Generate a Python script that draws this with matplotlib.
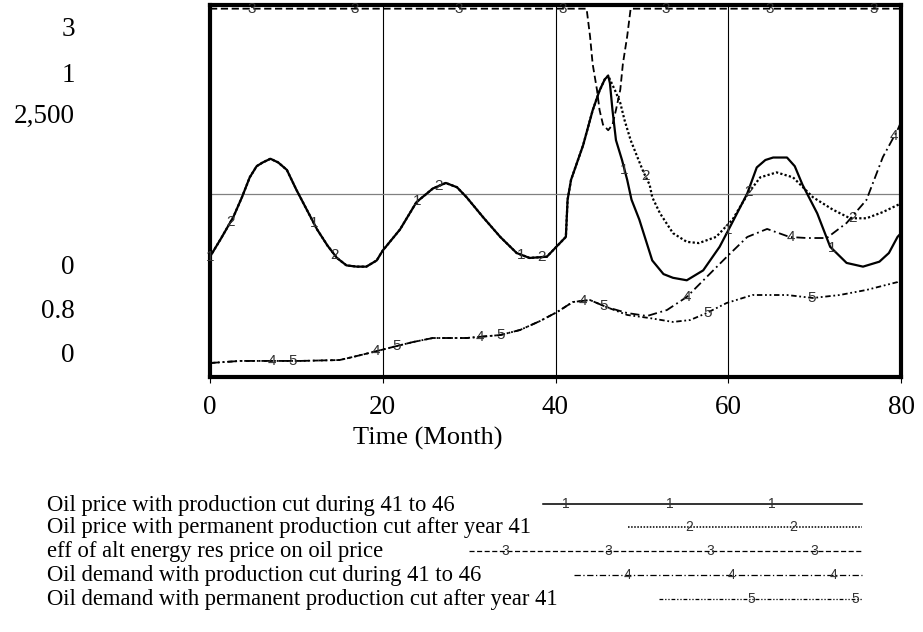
import numpy as np
import matplotlib
matplotlib.use("Agg")
import matplotlib.pyplot as plt

plt.rcParams['font.family'] = ['Liberation Serif', 'DejaVu Serif']

# ---- data ----
# 1: oil price with production cut during 41 to 46 (scale 0..3)
month_1 = [0, 1.3, 2.7, 3.7, 4.6, 5.4, 6.1, 7.0, 7.9, 8.9, 10.0, 11.2, 12.4, 13.6, 14.7,
           15.8, 17.0, 18.1, 19.3, 20.0, 22.0, 23.9, 25.8, 27.3, 28.6, 29.7, 31.6, 33.6,
           35.5, 37.0, 39.0, 41.2, 41.4, 41.8, 43.2, 44.3, 45.1, 45.7, 46.1, 46.3, 46.6,
           47.0, 47.7, 48.3, 48.8, 49.7, 51.2, 52.5, 53.6, 55.2, 57.1, 59.0, 60.2, 62.2,
           63.3, 64.3, 65.2, 66.8, 67.7, 68.6, 70.3, 71.8, 73.7, 75.6, 77.5, 78.6, 79.6, 80]
price_cut_41_46 = [0.97, 1.12, 1.29, 1.45, 1.61, 1.70, 1.73, 1.76, 1.73, 1.67, 1.51, 1.35,
                   1.19, 1.06, 0.96, 0.90, 0.89, 0.89, 0.94, 1.02, 1.19, 1.41, 1.52, 1.565,
                   1.53, 1.45, 1.29, 1.13, 1.00, 0.96, 0.97, 1.13, 1.43, 1.59, 1.87, 2.15,
                   2.31, 2.40, 2.43, 2.37, 2.15, 1.91, 1.75, 1.59, 1.43, 1.27, 0.94, 0.83,
                   0.80, 0.78, 0.86, 1.05, 1.21, 1.48, 1.69, 1.75, 1.77, 1.77, 1.70, 1.55,
                   1.32, 1.05, 0.92, 0.89, 0.93, 1.00, 1.13, 1.16]

# 2: oil price with permanent production cut after year 41 (scale 0..3)
month_2 = [0, 1.3, 2.7, 3.7, 4.6, 5.4, 6.1, 7.0, 7.9, 8.9, 10.0, 11.2, 12.4, 13.6, 14.7,
           15.8, 17.0, 18.1, 19.3, 20.0, 22.0, 23.9, 25.8, 27.3, 28.6, 29.7, 31.6, 33.6,
           35.5, 37.0, 39.0, 41.2, 41.4, 41.8, 43.2, 44.3, 45.1, 45.7, 46.1, 46.3, 46.9,
           47.5, 48.0, 48.7, 49.5, 50.2, 50.9, 51.2, 52.1, 53.6, 55.2, 56.6, 58.6, 60.5,
           62.3, 63.7, 65.6, 67.5, 69.8, 72.1, 74.1, 76.0, 77.9, 80]
price_perm_cut = [0.97, 1.12, 1.29, 1.45, 1.61, 1.70, 1.73, 1.76, 1.73, 1.67, 1.51, 1.35,
                  1.19, 1.06, 0.96, 0.90, 0.89, 0.89, 0.94, 1.02, 1.19, 1.41, 1.52, 1.565,
                  1.53, 1.45, 1.29, 1.13, 1.00, 0.96, 0.97, 1.13, 1.43, 1.59, 1.87, 2.15,
                  2.31, 2.40, 2.43, 2.40, 2.31, 2.21, 2.07, 1.91, 1.77, 1.65, 1.55, 1.45,
                  1.32, 1.16, 1.09, 1.08, 1.13, 1.27, 1.48, 1.61, 1.65, 1.61, 1.45, 1.35,
                  1.28, 1.28, 1.33, 1.40]

# 3: eff of alt energy res price on oil price (scale 0.8..1)
month_3 = [0, 43.6, 44.0, 44.3, 44.8, 45.1, 45.5, 46.1, 46.6, 47.0, 47.5, 47.8, 48.3, 48.7, 80]
eff_alt_energy = [1.0, 1.0, 0.985, 0.970, 0.956, 0.945, 0.937, 0.934, 0.937, 0.945, 0.956,
                  0.970, 0.985, 1.0, 1.0]

# 4: oil demand with production cut during 41 to 46 (scale 0..2500)
month_4 = [0, 3.5, 10.4, 15.0, 16.5, 18.9, 21.2, 23.5, 25.8, 29.7, 33.6, 35.9, 38.2, 40.2,
           42.0, 44.0, 45.9, 48.3, 50.6, 52.9, 55.2, 57.5, 59.8, 62.2, 64.5, 67.1, 69.1,
           71.4, 73.7, 76.0, 77.9, 79.6, 80]
demand_cut_41_46 = [94, 108, 108, 114, 134, 168, 202, 235, 262, 262, 282, 316, 376, 437,
                    504, 517, 470, 430, 410, 450, 538, 672, 806, 941, 995, 941, 934, 934,
                    1035, 1190, 1478, 1660, 1714]

# 5: oil demand with permanent production cut after year 41 (scale 0..2500)
month_5 = [0, 3.5, 10.4, 15.0, 16.5, 18.9, 21.2, 23.5, 25.8, 29.7, 33.6, 35.9, 38.2, 40.2,
           42.0, 44.0, 45.9, 48.3, 50.9, 53.6, 55.6, 57.5, 59.8, 62.8, 66.8, 69.8, 72.9,
           76.0, 79.6, 80]
demand_perm_cut = [94, 108, 108, 114, 134, 168, 202, 235, 262, 262, 282, 316, 376, 437,
                   504, 517, 470, 417, 396, 370, 383, 430, 497, 551, 551, 531, 551, 585,
                   638, 652]

x_ticks = [0, 20, 40, 60, 80]
scale_top = ["3", "1", "2,500"]
scale_bottom = ["0", "0.8", "0"]
legend_names = [
    "Oil price with production cut during 41 to 46",
    "Oil price with permanent production cut after year 41",
    "eff of alt energy res price on oil price",
    "Oil demand with production cut during 41 to 46",
    "Oil demand with permanent production cut after year 41",
]

styles = [
    dict(ls='-', lw=1.6),
    dict(ls=(0, (1, 1)), lw=1.6),
    dict(ls=(0, (4, 2)), lw=1.3),
    dict(ls=(0, (5, 2, 1, 2)), lw=1.3),
    dict(ls=(0, (3, 1.5, 1, 1.5, 1, 1.5)), lw=1.3),
]

W, H = 923, 632
fig = plt.figure(figsize=(W / 100, H / 100), dpi=100)

def px(x0, y0, x1, y1):
    return [x0 / W, 1 - y1 / H, (x1 - x0) / W, (y1 - y0) / H]

ax = fig.add_axes(px(210, 5, 901, 377))
ax_eff = ax.twinx()
ax_dem = ax.twinx()

ax.set_xlim(0, 80)
ax.set_ylim(0, 3)
ax_eff.set_ylim(0.8, 1.002)
ax_dem.set_ylim(0, 2500)

for a in (ax_eff, ax_dem):
    a.set_yticks([])
    for s in a.spines.values():
        s.set_visible(False)

ax.set_yticks([])
ax.set_xticks(x_ticks)
ax.set_xticklabels([str(t) for t in x_ticks])
ax.tick_params(axis='x', direction='out', length=4, width=0.8, pad=9, labelsize=19.5)
ax.grid(axis='x', color='black', lw=0.8)
ax.axhline(1.475, color='#808080', lw=0.9)
for s in ax.spines.values():
    s.set_linewidth(3)

series = [
    (ax, month_1, price_cut_41_46),
    (ax, month_2, price_perm_cut),
    (ax_eff, month_3, eff_alt_energy),
    (ax_dem, month_4, demand_cut_41_46),
    (ax_dem, month_5, demand_perm_cut),
]

for k, (a, m, v) in enumerate(series):
    a.plot(m, v, color='black', **styles[k])
    marks = np.arange(2.4 * k, 80.01, 12)
    for mm, vv in zip(marks, np.interp(marks, m, v)):
        a.text(mm, vv, str(k + 1), ha='center', va='center', fontsize=11,
               family='Liberation Sans', color='#333333')

# stacked scale labels at the left
for lab, y in zip(scale_top + scale_bottom, [29, 75, 116, 268, 311, 356]):
    fig.text(75 / W, 1 - y / H, lab, ha='right', va='center', fontsize=19.5)

fig.text(428 / W, 1 - 438 / H, "Time (Month)", ha='center', va='center', fontsize=19)

# legend block
leg = fig.add_axes([0, 0, 1, 1], zorder=-1)
leg.set_xlim(0, W)
leg.set_ylim(H, 0)
leg.axis('off')
rows_y = [504, 527, 551, 575, 599]
line_start = [543, 628, 469, 574, 659]
mark_x = [[566, 670, 772], [689, 793], [505, 608, 710, 814], [628, 731, 834], [751, 855]]
for k, name in enumerate(legend_names):
    y = rows_y[k]
    leg.text(47, y + 1, name, ha='left', va='center', fontsize=16.3)
    st = dict(styles[k])
    st['lw'] = st['lw'] * 0.7
    leg.plot([line_start[k], 862], [y, y], color='black', **st)
    for xm in mark_x[k]:
        leg.text(xm, y, str(k + 1), ha='center', va='center', fontsize=10,
                 family='Liberation Sans', color='#333333')

fig.savefig("out.png", dpi=100)
